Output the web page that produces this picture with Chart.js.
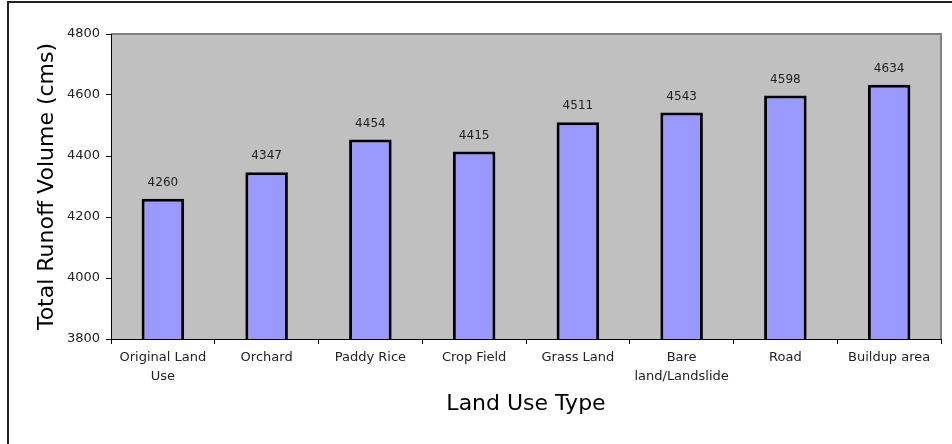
<!DOCTYPE html>
<html>
<head>
<meta charset="utf-8">
<script src="https://cdn.jsdelivr.net/npm/chart.js@4"></script>
<style>
  html, body { margin: 0; padding: 0; background: #fff; }
  canvas { display: block; }
</style>
</head>
<body>
<canvas id="runoffChart" width="952" height="444"></canvas>
<script>

/* DATA */

const landUseTypes = [
  ["Original Land", "Use"],
  "Orchard",
  "Paddy Rice",
  "Crop Field",
  "Grass Land",
  ["Bare", "land/Landslide"],
  "Road",
  "Buildup area"
];

const runoffVolumes = [4260, 4347, 4454, 4415, 4511, 4543, 4598, 4634];

const yMin = 3800;
const yMax = 4800;
const yStep = 200;


/* PLOT BACKGROUND + FRAME */

const framePlugin = {
  id: "frame",
  beforeDraw(chart) {
    const { ctx, chartArea } = chart;
    ctx.save();
    ctx.fillStyle = "#ffffff";
    ctx.fillRect(0, 0, chart.width, chart.height);

    // outer border (left + top)
    ctx.fillStyle = "#222222";
    ctx.fillRect(7, 1, 2, chart.height - 1);
    ctx.fillRect(7, 1, chart.width - 7, 2);

    // plot area
    ctx.fillStyle = "#C0C0C0";
    ctx.fillRect(chartArea.left, chartArea.top,
      chartArea.right - chartArea.left, chartArea.bottom - chartArea.top);

    ctx.strokeStyle = "#808080";
    ctx.lineWidth = 2;
    ctx.beginPath();
    ctx.moveTo(chartArea.left, chartArea.top);
    ctx.lineTo(chartArea.right, chartArea.top);
    ctx.lineTo(chartArea.right, chartArea.bottom);
    ctx.stroke();
    ctx.restore();
  }
};


/* VALUE LABELS */

const valueLabels = {
  id: "valueLabels",
  afterDatasetsDraw(chart) {
    const { ctx } = chart;
    const meta = chart.getDatasetMeta(0);
    ctx.save();
    ctx.font = "12px 'DejaVu Sans'";
    ctx.fillStyle = "#222222";
    ctx.textAlign = "center";
    ctx.textBaseline = "middle";
    meta.data.forEach((bar, i) => {
      ctx.fillText(String(runoffVolumes[i]), bar.x, bar.y - 16);
    });
    ctx.restore();
  }
};


/* CHART */

new Chart(document.getElementById("runoffChart"), {

  type: "bar",

  data: {
    labels: landUseTypes,
    datasets: [{
      data: runoffVolumes,
      backgroundColor: "#9999FF",
      borderColor: "#000000",
      borderWidth: 3,
      borderSkipped: false,
      barPercentage: 0.41,
      categoryPercentage: 1
    }]
  },

  options: {
    responsive: false,
    animation: false,
    devicePixelRatio: 1,
    layout: {
      padding: { top: 34, right: 11, left: 0, bottom: 0 }
    },
    plugins: {
      legend: { display: false },
      tooltip: { enabled: false }
    },
    scales: {
      x: {
        afterFit(scale) { scale.height = 105; },
        grid: {
          offset: true,
          drawOnChartArea: false,
          drawTicks: true,
          tickLength: 5,
          color: "#000000"
        },
        border: { display: true, color: "#000000", width: 1 },
        ticks: {
          color: "#222222",
          padding: 5,
          maxRotation: 0,
          autoSkip: false,
          font: { family: "'DejaVu Sans'", size: 13, lineHeight: 1.4 }
        },
        title: {
          display: true,
          text: "Land Use Type",
          color: "#000000",
          font: { family: "'DejaVu Sans'", size: 22, lineHeight: 1.2 },
          padding: { top: 0, bottom: 27 }
        }
      },
      y: {
        min: yMin,
        max: yMax,
        afterFit(scale) { scale.width = 111; },
        grid: {
          drawOnChartArea: false,
          drawTicks: true,
          tickLength: 5,
          color: "#000000"
        },
        border: { display: true, color: "#000000", width: 1 },
        ticks: {
          stepSize: yStep,
          color: "#222222",
          padding: 6,
          font: { family: "'DejaVu Sans'", size: 13 },
          callback: v => String(v)
        },
        title: {
          display: true,
          text: "Total Runoff Volume (cms)",
          color: "#000000",
          font: { family: "'DejaVu Sans'", size: 22, lineHeight: 1.2 },
          padding: { top: 34, bottom: 0 }
        }
      }
    }
  },

  plugins: [framePlugin, valueLabels]

});

</script>
</body>
</html>
